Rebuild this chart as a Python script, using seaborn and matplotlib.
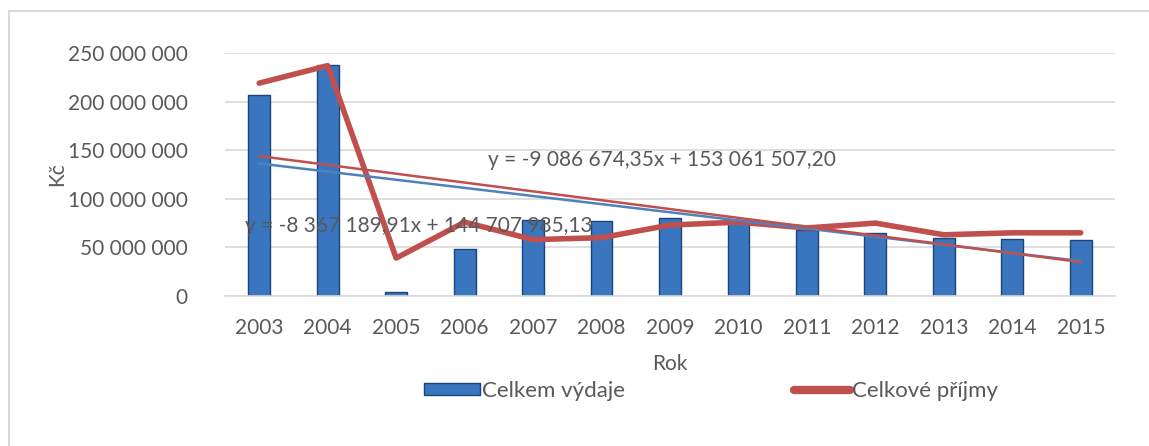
import numpy as np
import pandas as pd
import matplotlib
matplotlib.use("Agg")
import matplotlib.pyplot as plt
import seaborn as sns
from matplotlib.lines import Line2D
from matplotlib.patches import Patch

# data
years = [2003, 2004, 2005, 2006, 2007, 2008, 2009, 2010, 2011, 2012, 2013, 2014, 2015]
vydaje = [207e6, 238e6, 4e6, 48e6, 78e6, 77e6, 80e6, 75e6, 68e6, 65e6, 60e6, 59e6, 58e6]
prijmy = [219e6, 237e6, 39e6, 76e6, 58e6, 60e6, 73e6, 76e6, 70e6, 75e6, 63e6, 65e6, 65e6]
# linear trend coefficients printed in the chart (x = 1..13)
trend_vydaje = [-8367189.91, 144707985.13]
trend_prijmy = [-9086674.35, 153061507.20]
eq_vydaje = "y = -8 367 189,91x + 144 707 985,13"
eq_prijmy = "y = -9 086 674,35x + 153 061 507,20"

df = pd.DataFrame({"Rok": [str(y) for y in years], "vydaje": vydaje, "prijmy": prijmy})
df["idx"] = np.arange(len(years))
xs = np.arange(1, len(years) + 1)
df["trend_v"] = np.polyval(trend_vydaje, xs)
df["trend_p"] = np.polyval(trend_prijmy, xs)

sns.set_style("white")
plt.rcParams["font.family"] = ["Lato", "DejaVu Sans"]

text_c = "#595959"
blue = "#3a76c0"
red = "#c0504d"
fs = 15

fig = plt.figure(figsize=(11.49, 4.46), dpi=100)
ax = fig.add_axes([225 / 1149, 1 - 296 / 446, 890 / 1149, 243 / 446])

sns.barplot(data=df, x="Rok", y="vydaje", color=blue, width=0.32,
            edgecolor="#1d4477", linewidth=1.0, saturation=1, ax=ax)

sns.lineplot(data=df, x="idx", y="prijmy", color=red, linewidth=4.0, ax=ax,
             solid_capstyle="round", solid_joinstyle="round")
sns.lineplot(data=df, x="idx", y="trend_v", color="#4f81bd", linewidth=1.8, ax=ax)
sns.lineplot(data=df, x="idx", y="trend_p", color=red, linewidth=1.8, ax=ax)

ax.set_xlim(-0.5, len(years) - 0.5)
ax.set_ylim(0, 250e6)
ax.set_yticks(np.arange(0, 250e6 + 1, 50e6))
ax.set_yticklabels(["{:,.0f}".format(v).replace(",", " ") for v in ax.get_yticks()])
ax.yaxis.grid(True, color="#d9d9d9", linewidth=1.2)
ax.set_axisbelow(True)
for s in ["top", "right", "left"]:
    ax.spines[s].set_visible(False)
ax.spines["bottom"].set_color("#d9d9d9")
ax.spines["bottom"].set_linewidth(1.2)
ax.tick_params(axis="both", length=0, labelsize=fs, labelcolor=text_c)
ax.tick_params(axis="y", pad=27)
ax.tick_params(axis="x", pad=16)

ax.set_xlabel("Rok", fontsize=fs, color=text_c)
ax.xaxis.set_label_coords(0.5, -58 / 243)
ax.set_ylabel("Kč", fontsize=fs, color=text_c)
ax.yaxis.set_label_coords(-158 / 890, 0.5)

ax.text(3.34, 140e6, eq_prijmy, fontsize=fs, color=text_c, va="center")
ax.text(-0.21, 72e6, eq_vydaje, fontsize=fs, color=text_c, va="center", zorder=5)

handles = [Patch(facecolor=blue, edgecolor="#1d4477"),
           Line2D([0], [0], color=red, linewidth=6, solid_capstyle="round")]
fig.legend(handles, ["Celkem výdaje", "Celkové příjmy"], loc="center",
           bbox_to_anchor=(711 / 1149, 1 - 391 / 446), ncol=2, frameon=False,
           fontsize=16, labelcolor=text_c, columnspacing=7.6, handlelength=2.5,
           handleheight=0.45, handletextpad=0.1)

# chart area border (left and top edges visible)
fig.add_artist(Line2D([9 / 1149, 9 / 1149], [0, 1 - 11 / 446], color="#d9d9d9",
                      linewidth=1.5, transform=fig.transFigure))
fig.add_artist(Line2D([9 / 1149, 1], [1 - 11 / 446, 1 - 11 / 446], color="#d9d9d9",
                      linewidth=1.5, transform=fig.transFigure))

fig.savefig("out.png", dpi=100)
